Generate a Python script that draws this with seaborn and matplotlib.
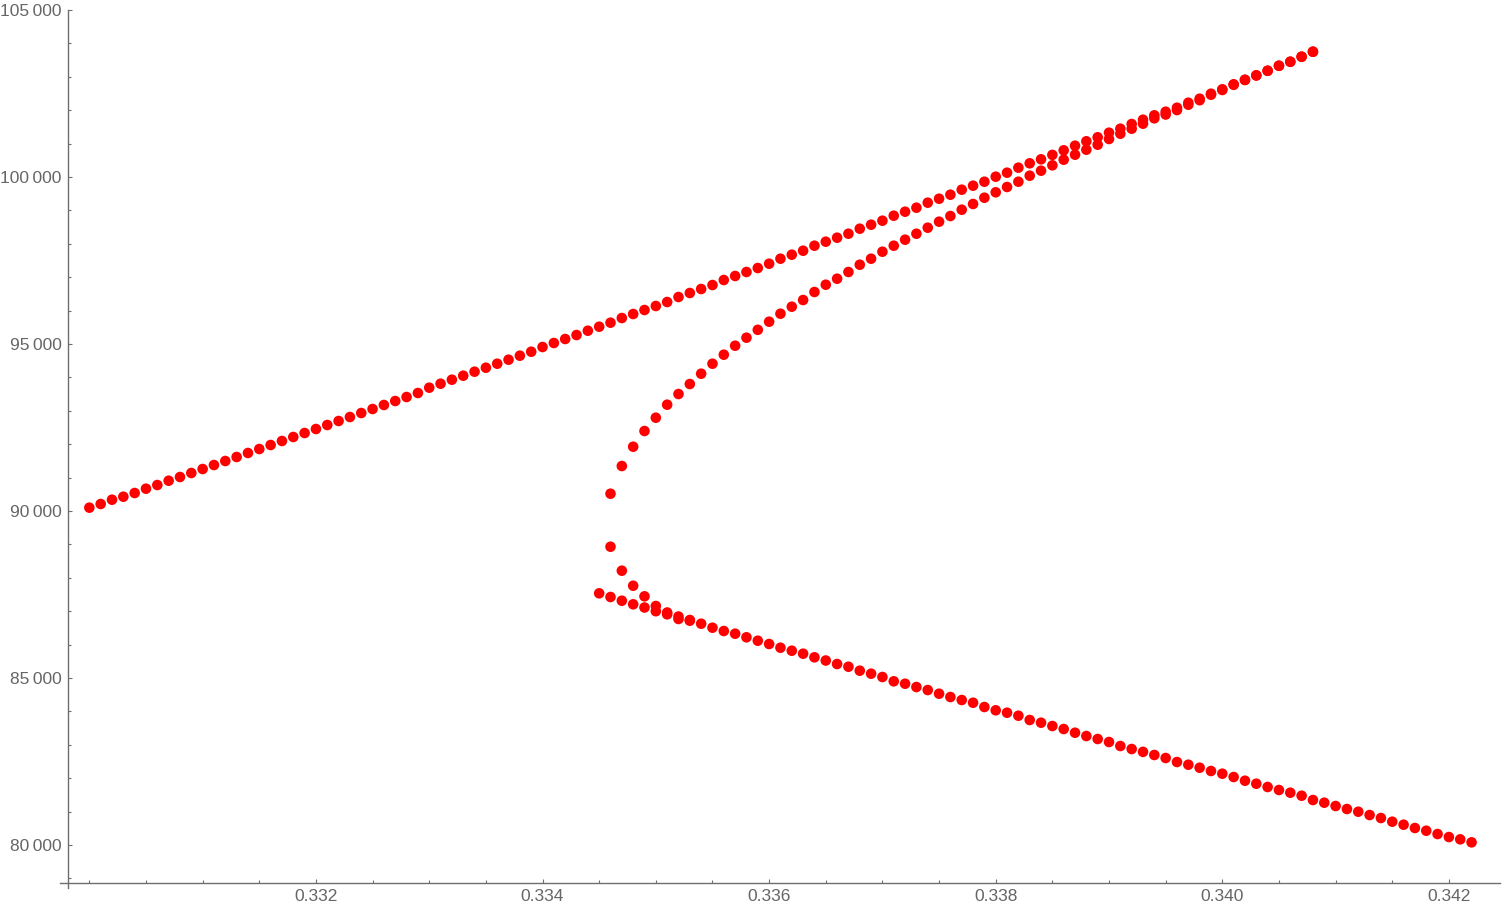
import numpy as np
import pandas as pd
import matplotlib
matplotlib.use('Agg')
import matplotlib.pyplot as plt
import matplotlib.ticker as mticker
import seaborn as sns

# parameter grid shared by all branches (0.3300 ... 0.3422)
x_grid = [0.3300, 0.3301, 0.3302, 0.3303, 0.3304, 0.3305, 0.3306, 0.3307, 0.3308, 0.3309,
          0.3310, 0.3311, 0.3312, 0.3313, 0.3314, 0.3315, 0.3316, 0.3317, 0.3318, 0.3319,
          0.3320, 0.3321, 0.3322, 0.3323, 0.3324, 0.3325, 0.3326, 0.3327, 0.3328, 0.3329,
          0.3330, 0.3331, 0.3332, 0.3333, 0.3334, 0.3335, 0.3336, 0.3337, 0.3338, 0.3339,
          0.3340, 0.3341, 0.3342, 0.3343, 0.3344, 0.3345, 0.3346, 0.3347, 0.3348, 0.3349,
          0.3350, 0.3351, 0.3352, 0.3353, 0.3354, 0.3355, 0.3356, 0.3357, 0.3358, 0.3359,
          0.3360, 0.3361, 0.3362, 0.3363, 0.3364, 0.3365, 0.3366, 0.3367, 0.3368, 0.3369,
          0.3370, 0.3371, 0.3372, 0.3373, 0.3374, 0.3375, 0.3376, 0.3377, 0.3378, 0.3379,
          0.3380, 0.3381, 0.3382, 0.3383, 0.3384, 0.3385, 0.3386, 0.3387, 0.3388, 0.3389,
          0.3390, 0.3391, 0.3392, 0.3393, 0.3394, 0.3395, 0.3396, 0.3397, 0.3398, 0.3399,
          0.3400, 0.3401, 0.3402, 0.3403, 0.3404, 0.3405, 0.3406, 0.3407, 0.3408, 0.3409,
          0.3410, 0.3411, 0.3412, 0.3413, 0.3414, 0.3415, 0.3416, 0.3417, 0.3418, 0.3419,
          0.3420, 0.3421, 0.3422]

# upper branch, x_grid[0:109]
upper = [90100, 90210, 90338, 90428, 90539, 90668, 90778, 90907, 91018, 91138,
         91257, 91377, 91497, 91617, 91737, 91856, 91976, 92096, 92216, 92335,
         92455, 92575, 92695, 92814, 92934, 93054, 93174, 93293, 93413, 93533,
         93692, 93811, 93931, 94051, 94171, 94290, 94410, 94530, 94650, 94769,
         94910, 95030, 95150, 95269, 95398, 95518, 95638, 95778, 95898, 96018,
         96138, 96257, 96407, 96527, 96647, 96766, 96916, 97036, 97156, 97275,
         97404, 97554, 97674, 97793, 97943, 98063, 98183, 98302, 98452, 98572,
         98692, 98841, 98961, 99081, 99231, 99350, 99470, 99620, 99740, 99859,
         100009, 100129, 100279, 100410, 100530, 100662, 100799, 100937, 101069, 101189,
         101327, 101446, 101587, 101715, 101847, 101955, 102074, 102224, 102344, 102494,
         102626, 102775, 102913, 103045, 103182, 103332, 103452, 103601, 103751]

# middle (rising) branch, x_grid[46:109]
middle = [90518, 91347, 91925, 92395, 92793, 93183, 93503, 93802, 94111, 94410,
          94680, 94949, 95189, 95425, 95668, 95907, 96117, 96317, 96557, 96775,
          96955, 97156, 97374, 97554, 97763, 97943, 98123, 98302, 98482, 98662,
          98832, 99021, 99192, 99380, 99542, 99701, 99859, 100039, 100189, 100350,
          100518, 100668, 100817, 100967, 101138, 101296, 101446, 101596, 101757, 101871,
          102004, 102164, 102299, 102464, 102605, 102760, 102904, 103039, 103179, 103329,
          103449, 103601, 103751]

# lower branch, x_grid[45:123]
lower = [87536, 87425, 87314, 87207, 87111, 87000, 86907, 86767, 86716, 86626,
         86506, 86407, 86326, 86219, 86117, 86018, 85907, 85817, 85728, 85620,
         85524, 85419, 85338, 85219, 85129, 85030, 84901, 84829, 84730, 84640,
         84530, 84431, 84341, 84260, 84132, 84033, 83961, 83871, 83743, 83662,
         83563, 83473, 83362, 83263, 83174, 83084, 82964, 82874, 82789, 82695,
         82605, 82485, 82404, 82314, 82216, 82135, 82036, 81925, 81835, 81737,
         81647, 81566, 81476, 81347, 81267, 81168, 81078, 80997, 80898, 80808,
         80698, 80608, 80509, 80428, 80329, 80239, 80170, 80080]

# short descending branch near the fold, x_grid[46:54]
falling = [88931, 88213, 87763, 87446, 87156, 86961, 86841, 86737]

df = pd.concat([
    pd.DataFrame({'x': x_grid[0:109], 'y': upper}),
    pd.DataFrame({'x': x_grid[46:109], 'y': middle}),
    pd.DataFrame({'x': x_grid[45:123], 'y': lower}),
    pd.DataFrame({'x': x_grid[46:54], 'y': falling}),
], ignore_index=True)

sns.set_style('white')
plt.rcParams['font.family'] = ['Liberation Sans', 'DejaVu Sans']

W, H = 1502, 907
fig = plt.figure(figsize=(W / 100, H / 100), dpi=100)
ax = fig.add_axes([60 / W, (H - 888) / H, (1500 - 60) / W, (888 - 10) / H])

sns.scatterplot(data=df, x='x', y='y', ax=ax, color='#ff0000', s=58,
                linewidth=0, edgecolor='none', legend=False, zorder=3)

ax.set_xlim(0.329741, 0.342451)
ax.set_ylim(78713, 105000)

axis_col = '#6e6e6e'
for side in ['top', 'right']:
    ax.spines[side].set_visible(False)
ax.spines['left'].set_position(('data', 0.329816))
ax.spines['bottom'].set_position(('data', 78862))
for side in ['left', 'bottom']:
    ax.spines[side].set_color(axis_col)
    ax.spines[side].set_linewidth(1.0)

ax.set_xticks([0.332, 0.334, 0.336, 0.338, 0.340, 0.342])
ax.set_xticks([0.3300, 0.3305, 0.3310, 0.3315, 0.3325, 0.3330, 0.3335, 0.3345,
               0.3350, 0.3355, 0.3365, 0.3370, 0.3375, 0.3385, 0.3390, 0.3395,
               0.3405, 0.3410, 0.3415], minor=True)
ax.xaxis.set_major_formatter(mticker.FuncFormatter(lambda v, p: f'{v:.3f}'))

ax.set_yticks([80000, 85000, 90000, 95000, 100000, 105000])
ax.yaxis.set_minor_locator(mticker.MultipleLocator(1000))


def thousands(v, p):
    v = int(round(v))
    return f'{v // 1000}\u2009{v % 1000:03d}'


ax.yaxis.set_major_formatter(mticker.FuncFormatter(thousands))

ax.tick_params(which='both', direction='in', color=axis_col, width=0.8,
               labelcolor='#666666', labelsize=12.5)
ax.tick_params(which='major', length=3.2)
ax.tick_params(which='minor', length=2)
ax.tick_params(axis='x', which='both', bottom=True, pad=4)
ax.tick_params(axis='y', which='both', left=True, pad=5)

ax.set_xlabel('')
ax.set_ylabel('')
ax.grid(False)

fig.savefig('out.png', dpi=100)
